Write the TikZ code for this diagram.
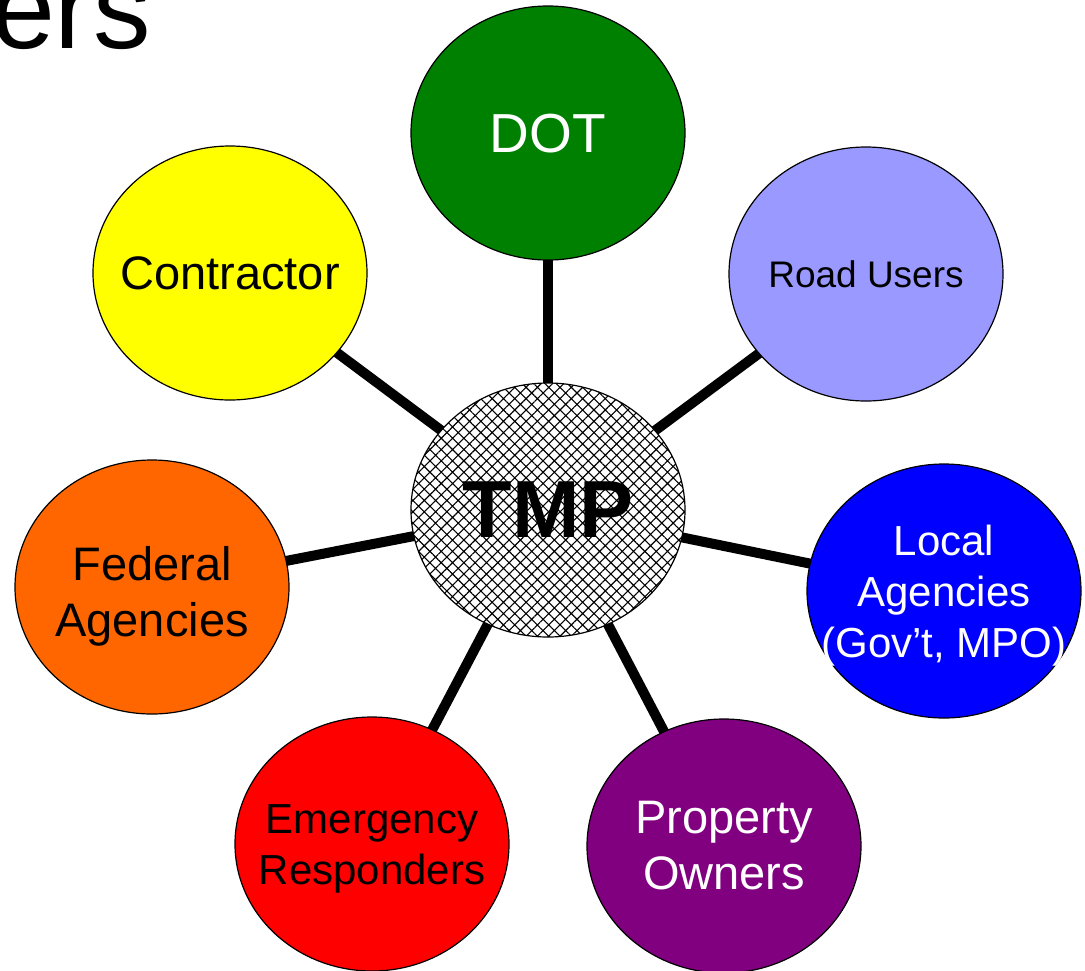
\documentclass[tikz,border=0pt]{standalone}
\usepackage{fontspec}
\setmainfont{Liberation Sans}
\usetikzlibrary{shapes.geometric,patterns.meta,backgrounds}
\definecolor{dotgreen}{RGB}{0,128,0}
\definecolor{userblue}{RGB}{153,153,255}
\definecolor{contryellow}{RGB}{255,255,0}
\definecolor{fedorange}{RGB}{255,102,0}
\definecolor{localblue}{RGB}{0,0,255}
\definecolor{emerred}{RGB}{255,0,0}
\definecolor{proppurple}{RGB}{128,0,128}
\begin{document}
\begin{tikzpicture}[x=1pt,y=-1pt,
  bubble/.style={ellipse,draw=black,line width=1.2pt,minimum width=274pt,
    minimum height=254pt,inner sep=0pt},
  lbl/.style={inner sep=0pt,align=center},
  spoke/.style={line width=10pt,black},
  bigtext/.style={font=\fontsize{47}{56}\selectfont},
  midtext/.style={font=\fontsize{42}{51}\selectfont},
  smalltext/.style={font=\fontsize{37}{44}\selectfont}]
\useasboundingbox (0,0) rectangle (1085,970);
\clip (0,0) rectangle (1085,970);

% heading fragment at the top left
\node[anchor=base east,inner sep=0pt,font=\fontsize{115}{130}\selectfont] (heading) at (151,48) {ers};

% hub
\node[bubble,preaction={fill=white},
  pattern={Hatch[angle=45,distance=8pt,line width=1.1pt]},
  label={[lbl,font=\fontsize{81}{90}\selectfont\bfseries]center:TMP}] (tmp) at (548,510) {};

% stakeholders
\node[bubble,fill=dotgreen,
  label={[lbl,text=white,font=\fontsize{55}{62}\selectfont,yshift=-1pt]center:DOT}] (dot) at (548,133) {};
\node[bubble,fill=userblue,
  label={[lbl,smalltext]center:Road Users}] (road) at (866,274) {};
\node[bubble,fill=contryellow,
  label={[lbl,bigtext]center:Contractor}] (contr) at (230,273) {};
\node[bubble,fill=fedorange,
  label={[lbl,bigtext,yshift=-9pt]center:Federal\\Agencies}] (fed) at (152,587) {};
\node[bubble,fill=localblue,
  label={[lbl,midtext,text=white,yshift=-5pt]center:Local\\Agencies\\(Gov’t, MPO)}] (local) at (944,591) {};
\node[bubble,fill=emerred,
  label={[lbl,midtext,yshift=-5pt]center:Emergency\\Responders}] (emer) at (372,844) {};
\node[bubble,fill=proppurple,
  label={[lbl,bigtext,text=white]center:Property\\Owners}] (prop) at (724,846) {};

% spokes from the hub
\begin{pgfonlayer}{background}
\foreach \n in {dot,road,contr,fed,local,emer,prop}
  \draw[spoke] (tmp.center) -- (\n.center);
\end{pgfonlayer}
\end{tikzpicture}
\end{document}
